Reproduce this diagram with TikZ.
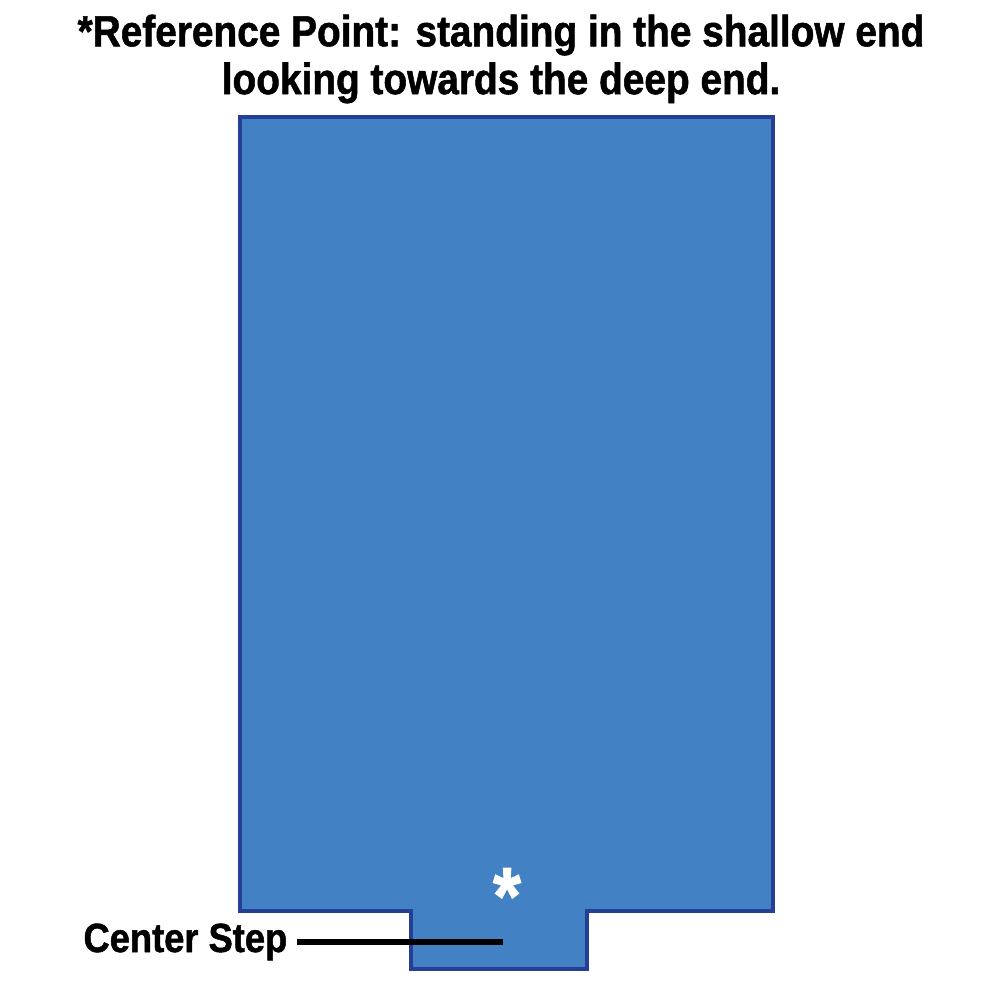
\documentclass[tikz,border=0pt]{standalone}
\usepackage{fontspec}
\setmainfont{Liberation Sans}
\newfontfamily\headfont{Liberation Sans}[FakeStretch=0.89,FakeBold=1.2]
\definecolor{poolblue}{HTML}{4281C3}
\definecolor{pooledge}{HTML}{253F94}
\tikzset{
  title/.style={font=\headfont\bfseries\fontsize{12.4}{13.6}\selectfont, align=center},
  steplabel/.style={font=\headfont\bfseries\fontsize{11.6}{12}\selectfont, anchor=east, inner sep=0pt},
  pointer/.style={line width=1.8pt, black}
}
\begin{document}
\begin{tikzpicture}[x=0.01cm,y=-0.01cm]
 \useasboundingbox (0,0) rectangle (1000,1000);
 % pool outline with the step
 \draw[fill=poolblue,draw=pooledge,line width=1pt,line join=miter]
   (240,117)--(773,117)--(773,911)--(587,911)--(587,969)--(411,969)--(411,911)--(240,911)--cycle;
 \node[title] (heading) at (501,59) {*Reference Point: standing in the shallow end\\looking towards the deep end.};
 \node[white, font=\headfont\bfseries\fontsize{23}{23}\selectfont, inner sep=0pt] (refpoint) at (507,896) {*};
 \node[steplabel] (label) at (288,942) {Center Step};
 \coordinate (stepend) at (503,942);
 \draw[pointer] (label.east) ++(9,0) -- (stepend);
\end{tikzpicture}
\end{document}
